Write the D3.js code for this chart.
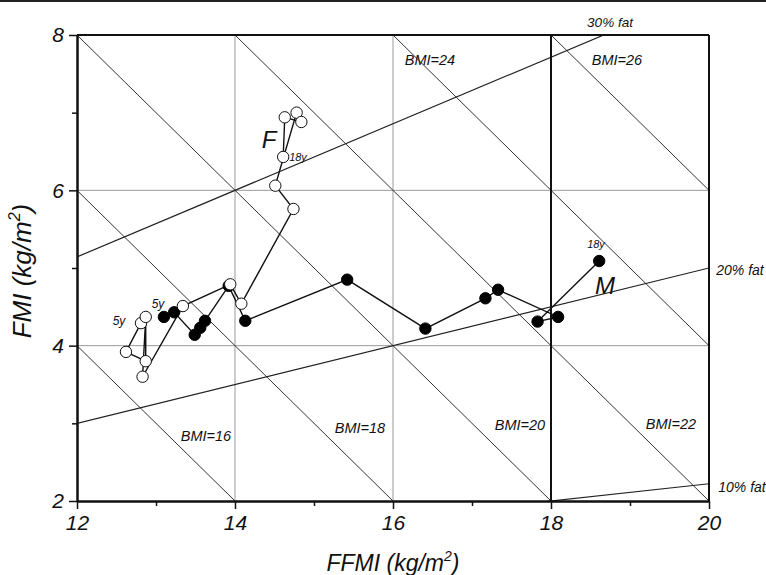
<!DOCTYPE html>
<html>
<head>
<meta charset="utf-8">
<script src="https://cdn.jsdelivr.net/npm/d3@7"></script>
<style>
  html, body { margin: 0; padding: 0; background: #fff; }
  svg { display: block; }
  text { font-family: "Liberation Sans", Arial, sans-serif; font-style: italic; fill: #111; }
</style>
</head>
<body>
<svg id="chart" width="766" height="575"></svg>
<script>
// ---- data ----
const xTicks = [12, 14, 16, 18, 20];
const yTicks = [2, 4, 6, 8];
const bmiValues = [16, 18, 20, 22, 24, 26];
const fatPercents = [10, 20, 30];

// Females (open circles), ages 5y -> 18y path order
const femaleFFMI = [12.81, 12.62, 12.87, 12.87, 12.83, 13.34, 13.94, 14.08, 14.74, 14.51, 14.78, 14.84, 14.63, 14.61];
const femaleFMI  = [4.29, 3.92, 3.80, 4.37, 3.60, 4.51, 4.79, 4.54, 5.76, 6.06, 7.00, 6.88, 6.94, 6.43];

// Males (filled circles), ages 5y -> 18y path order
const maleFFMI = [13.10, 13.23, 13.49, 13.56, 13.62, 13.92, 14.13, 15.42, 16.41, 17.17, 17.33, 18.09, 17.83, 18.61];
const maleFMI  = [4.37, 4.43, 4.14, 4.23, 4.32, 4.77, 4.32, 4.85, 4.22, 4.61, 4.72, 4.37, 4.31, 5.09];

// ---- layout ----
const svg = d3.select("#chart");
const pL = 77, pR = 709, pT = 35, pB = 501;
const x = d3.scaleLinear().domain([12, 20]).range([pL, pR]);
const y = d3.scaleLinear().domain([2, 8]).range([pB, pT]);

// top page rule
svg.append("line").attr("x1", 0).attr("x2", 766).attr("y1", 1).attr("y2", 1)
  .attr("stroke", "#222").attr("stroke-width", 2);

// grid
const g = svg.append("g");
[14, 16].forEach(v => g.append("line")
  .attr("x1", x(v)).attr("x2", x(v)).attr("y1", y(2)).attr("y2", y(8))
  .attr("stroke", "#9a9a9a").attr("stroke-width", 1));
[4, 6].forEach(v => g.append("line")
  .attr("x1", x(12)).attr("x2", x(20)).attr("y1", y(v)).attr("y2", y(v))
  .attr("stroke", "#9a9a9a").attr("stroke-width", 1));

// clip
svg.append("defs").append("clipPath").attr("id", "plotclip")
  .append("rect").attr("x", pL).attr("y", pT).attr("width", pR - pL).attr("height", pB - pT);

const line = d3.line().x(d => x(d[0])).y(d => y(d[1]));
const lines = svg.append("g").attr("clip-path", "url(#plotclip)");
// BMI iso-lines : FMI = BMI - FFMI
bmiValues.forEach(b => {
  const pts = [[12, b - 12], [20, b - 20]];
  lines.append("path").attr("d", line(pts)).attr("fill", "none")
    .attr("stroke", "#333").attr("stroke-width", 1);
});
// %fat lines : FMI = p/(100-p) * FFMI
fatPercents.forEach(p => {
  const k = p / (100 - p);
  const pts = [[12, 12 * k], [20, 20 * k]];
  lines.append("path").attr("d", line(pts)).attr("fill", "none")
    .attr("stroke", "#222").attr("stroke-width", 1.2);
});

// frame: thick lines at 18, 20 (right), 8 (top)
svg.append("line").attr("x1", x(18)).attr("x2", x(18)).attr("y1", y(2)).attr("y2", y(8))
  .attr("stroke", "#111").attr("stroke-width", 2);
svg.append("line").attr("x1", x(20)).attr("x2", x(20)).attr("y1", y(2)).attr("y2", y(8))
  .attr("stroke", "#111").attr("stroke-width", 2);
svg.append("line").attr("x1", x(12)).attr("x2", x(20)).attr("y1", y(8)).attr("y2", y(8))
  .attr("stroke", "#111").attr("stroke-width", 2);

// axes
const fmt = d3.format("d");
const xAxis = d3.axisBottom(x).tickValues(xTicks).tickSize(8).tickSizeOuter(0).tickPadding(6).tickFormat(fmt);
const xMinor = d3.axisBottom(x).tickValues([13, 15, 17, 19]).tickSize(5).tickSizeOuter(0).tickFormat("");
const yAxis = d3.axisLeft(y).tickValues(yTicks).tickSize(8).tickSizeOuter(0).tickPadding(5).tickFormat(fmt);
const yMinor = d3.axisLeft(y).tickValues([3, 5, 7]).tickSize(5).tickSizeOuter(0).tickFormat("");

function styleAxis(sel) {
  sel.select(".domain").attr("stroke", "#111").attr("stroke-width", 2);
  sel.selectAll(".tick line").attr("stroke", "#111").attr("stroke-width", 1.5);
  sel.selectAll(".tick text").style("font-family", "'Liberation Sans', Arial, sans-serif")
    .style("font-style", "italic").style("font-size", "21px").attr("fill", "#111");
}
svg.append("g").attr("transform", `translate(0,${pB})`).call(xMinor).call(styleAxis);
svg.append("g").attr("transform", `translate(0,${pB})`).call(xAxis).call(styleAxis);
svg.append("g").attr("transform", `translate(${pL},0)`).call(yMinor).call(styleAxis);
svg.append("g").attr("transform", `translate(${pL},0)`).call(yAxis).call(styleAxis);

// axis titles
const xt = svg.append("text").attr("x", 393).attr("y", 571).attr("text-anchor", "middle")
  .style("font-size", "23px");
xt.append("tspan").text("FFMI (kg/m");
xt.append("tspan").attr("dy", -10).style("font-size", "14px").text("2");
xt.append("tspan").attr("dy", 10).text(")");

const yt = svg.append("text").attr("transform", "translate(31,271) rotate(-90)")
  .attr("text-anchor", "middle").style("font-size", "26px");
yt.append("tspan").text("FMI (kg/m");
yt.append("tspan").attr("dy", -11).style("font-size", "16px").text("2");
yt.append("tspan").attr("dy", 11).text(")");

// series paths
const femaleData = femaleFFMI.map((v, i) => [v, femaleFMI[i]]);
const maleData = maleFFMI.map((v, i) => [v, maleFMI[i]]);

svg.append("path").attr("d", line(femaleData)).attr("fill", "none")
  .attr("stroke", "#111").attr("stroke-width", 1.4);
svg.append("path").attr("d", line(maleData)).attr("fill", "none")
  .attr("stroke", "#111").attr("stroke-width", 1.4);

svg.append("g").selectAll("circle").data(maleData).join("circle")
  .attr("cx", d => x(d[0])).attr("cy", d => y(d[1])).attr("r", 5.7)
  .attr("fill", "#000").attr("stroke", "#000");
svg.append("g").selectAll("circle").data(femaleData).join("circle")
  .attr("cx", d => x(d[0])).attr("cy", d => y(d[1])).attr("r", 5.7)
  .attr("fill", "#fff").attr("stroke", "#111").attr("stroke-width", 1);

// annotations
const ann = [
  { t: "BMI=16", x: 206, y: 441, s: 14.5 },
  { t: "BMI=18", x: 360, y: 433, s: 14.5 },
  { t: "BMI=20", x: 520, y: 430, s: 14.5 },
  { t: "BMI=22", x: 671, y: 429, s: 14.5 },
  { t: "BMI=24", x: 430, y: 65, s: 14.5 },
  { t: "BMI=26", x: 617, y: 65, s: 14.5 },
  { t: "30% fat", x: 610, y: 27, s: 13.5 },
  { t: "20% fat", x: 740, y: 275, s: 14 },
  { t: "10% fat", x: 742, y: 492, s: 14 },
  { t: "5y", x: 119, y: 325, s: 12 },
  { t: "5y", x: 158, y: 308, s: 12 },
  { t: "18y", x: 298, y: 161, s: 11 },
  { t: "18y", x: 596, y: 248, s: 11 },
  { t: "F", x: 269, y: 148, s: 24 },
  { t: "M", x: 605, y: 294, s: 24 }
];
svg.append("g").selectAll("text").data(ann).join("text")
  .attr("x", d => d.x).attr("y", d => d.y).attr("text-anchor", "middle")
  .style("font-size", d => d.s + "px").text(d => d.t);
</script>
</body>
</html>
